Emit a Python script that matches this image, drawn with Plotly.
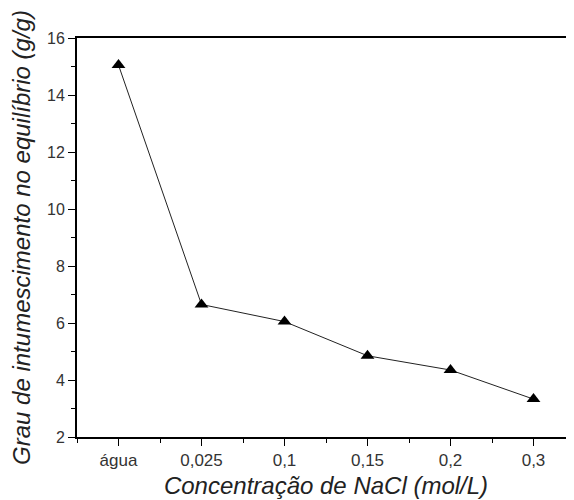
import plotly.graph_objects as go

categories = ["água", "0,025", "0,1", "0,15", "0,2", "0,3"]
swelling = [15.05, 6.65, 6.05, 4.85, 4.35, 3.33]
y_ticks = [2, 4, 6, 8, 10, 12, 14, 16]

x_idx = list(range(len(categories)))

fig = go.Figure()
fig.add_trace(go.Scatter(
    x=x_idx, y=swelling, mode="lines+markers",
    line=dict(color="#222222", width=1),
    marker=dict(symbol="triangle-up", size=12, color="black"),
    showlegend=False,
))

font_family = "Liberation Sans, Arial, sans-serif"
fig.update_layout(
    width=574, height=500,
    margin=dict(l=69, r=7, t=30, b=71),
    paper_bgcolor="white", plot_bgcolor="white",
    font=dict(family=font_family, color="#333333", size=16),
)
fig.update_xaxes(
    range=[-0.5, 5.5],
    tickvals=x_idx, ticktext=categories,
    ticks="outside", ticklen=7, tickwidth=1.3, tickcolor="black",
    minor=dict(tickvals=[i + 0.5 for i in range(-1, 6)], ticks="outside", ticklen=4, tickcolor="black", tickwidth=1.3),
    showline=True, linecolor="black", linewidth=2, mirror=True,
    showgrid=False, zeroline=False,
    tickfont=dict(size=17, color="#333333"),
    title=dict(text="<i>Concentração de NaCl (mol/L)</i>", font=dict(size=24, color="#222222"), standoff=8),
)
fig.update_yaxes(
    range=[2, 16],
    tickvals=y_ticks,
    ticks="outside", ticklen=7, tickwidth=1.3, tickcolor="black",
    minor=dict(tickvals=[3, 5, 7, 9, 11, 13, 15], ticks="outside", ticklen=4, tickcolor="black", tickwidth=1.3),
    showline=True, linecolor="black", linewidth=2,
    showgrid=False, zeroline=False,
    tickfont=dict(size=16, color="#333333"),
    title=dict(text="<i>Grau de intumescimento no equilíbrio (g/g)</i>", font=dict(size=24, color="#222222"), standoff=10),
)

fig.write_html("out.html")
